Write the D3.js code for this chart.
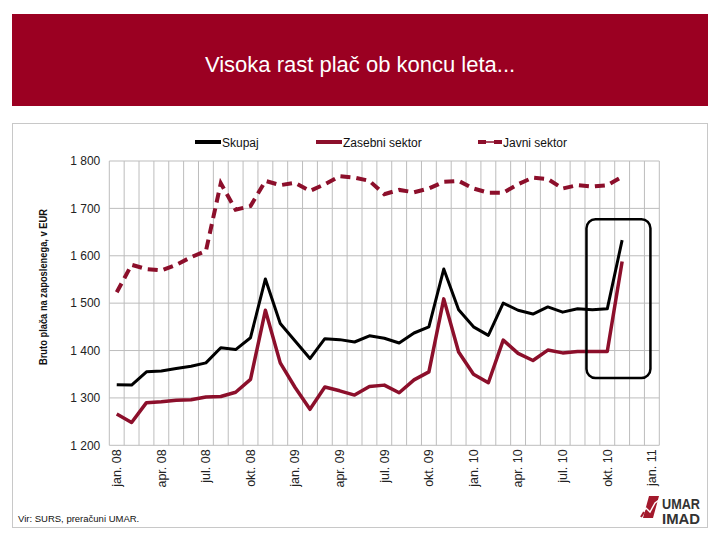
<!DOCTYPE html>
<html><head><meta charset="utf-8">
<script src="https://cdn.jsdelivr.net/npm/d3@7"></script>
<style>
html,body{margin:0;padding:0;background:#fff;}
svg{display:block;font-family:"Liberation Sans",Arial,sans-serif;}
</style></head>
<body><svg id="c" width="720" height="540"></svg>
<script>
const months = ["jan. 08","feb. 08","mar. 08","apr. 08","maj. 08","jun. 08","jul. 08","avg. 08","sep. 08","okt. 08","nov. 08","dec. 08",
"jan. 09","feb. 09","mar. 09","apr. 09","maj. 09","jun. 09","jul. 09","avg. 09","sep. 09","okt. 09","nov. 09","dec. 09",
"jan. 10","feb. 10","mar. 10","apr. 10","maj. 10","jun. 10","jul. 10","avg. 10","sep. 10","okt. 10","nov. 10","dec. 10","jan. 11"];
const tickLabels = ["jan. 08","apr. 08","jul. 08","okt. 08","jan. 09","apr. 09","jul. 09","okt. 09","jan. 10","apr. 10","jul. 10","okt. 10","jan. 11"];
const yTicks = [1200,1300,1400,1500,1600,1700,1800];
const skupaj = [1328,1327,1355,1357,1362,1367,1374,1406,1402,1427,1551,1457,1420,1383,1425,1423,1418,1431,1426,1416,1437,1450,1572,1486,1450,1432,1500,1485,1477,1492,1481,1488,1486,1488,1633];
const zasebni = [1266,1248,1290,1292,1295,1296,1302,1303,1312,1339,1485,1374,1322,1276,1323,1315,1306,1324,1327,1311,1338,1355,1509,1397,1350,1332,1422,1394,1379,1401,1395,1398,1398,1398,1588];
const javni = [1523,1581,1572,1569,1581,1597,1610,1753,1697,1705,1758,1749,1754,1737,1751,1768,1765,1758,1730,1739,1734,1742,1756,1758,1742,1733,1733,1751,1765,1762,1742,1749,1746,1749,1767];
const seriesNames = ["Skupaj","Zasebni sektor","Javni sektor"];
const title = "Visoka rast plač ob koncu leta...";
const yTitle = "Bruto plača na zaposlenega, v EUR";
const source = "Vir: SURS, preračuni UMAR.";

const RED = "#9b0022", LRED = "#8c0f2b";
const svg = d3.select("#c");

// header
svg.append("rect").attr("x",12).attr("y",14).attr("width",696).attr("height",92).attr("fill",RED);
svg.append("text").attr("x",360).attr("y",72).attr("text-anchor","middle").attr("fill","#fff")
  .attr("font-size",22).text(title);
// frame
svg.append("rect").attr("x",12.5).attr("y",123.5).attr("width",695).attr("height",404).attr("fill","none").attr("stroke","#c8c8c8");

const L=109.3, R=659.3, T=161, B=445.3;
const x = d3.scaleBand().domain(months).range([L,R]).padding(0);
const y = d3.scaleLinear().domain([1200,1800]).range([B,T]);
const cx = m => x(m)+x.bandwidth()/2;

// grid
const g = svg.append("g");
g.selectAll(".vg").data(months.concat(["end"])).join("line")
  .attr("x1",(d,i)=>L+i*x.bandwidth()).attr("x2",(d,i)=>L+i*x.bandwidth())
  .attr("y1",T).attr("y2",B).attr("stroke","#bdbdbd").attr("stroke-width",1);
g.selectAll(".hg").data(yTicks).join("line")
  .attr("x1",L).attr("x2",R).attr("y1",d=>y(d)).attr("y2",d=>y(d)).attr("stroke","#bdbdbd").attr("stroke-width",1);

// y axis
const fmt = v => String(v).replace(/(\d)(\d{3})$/,"$1 $2");
const ya = svg.append("g").attr("transform",`translate(${L},0)`)
  .call(d3.axisLeft(y).tickValues(yTicks).tickFormat(fmt).tickSize(0).tickPadding(9));
ya.select(".domain").remove();
ya.selectAll("text").attr("font-size",12).attr("fill","#222").attr("font-family","Liberation Sans, Arial, sans-serif");

svg.append("text").attr("transform","translate(47,287) rotate(-90)").attr("text-anchor","middle")
  .attr("font-size",11).attr("font-weight","bold").attr("fill","#111")
  .attr("textLength",156).attr("lengthAdjust","spacingAndGlyphs").text(yTitle);

// x labels
const xa = svg.append("g").attr("transform",`translate(0,${B})`)
  .call(d3.axisBottom(x).tickValues(tickLabels).tickSize(0).tickPadding(0));
xa.select(".domain").remove();
xa.selectAll("text").attr("font-size",12.5).attr("fill","#222").attr("font-family","Liberation Sans, Arial, sans-serif")
  .attr("text-anchor","end").attr("transform","rotate(-90)").attr("x",-4).attr("y",0).attr("dy","0.35em");

// lines
const line = d3.line().x((d,i)=>cx(months[i])).y(d=>y(d));
svg.append("path").datum(javni).attr("d",line).attr("fill","none").attr("stroke",LRED)
  .attr("stroke-width",4).attr("stroke-dasharray","10,6");
svg.append("path").datum(zasebni).attr("d",line).attr("fill","none").attr("stroke",LRED).attr("stroke-width",3.5).attr("stroke-linejoin","round");
svg.append("path").datum(skupaj).attr("d",line).attr("fill","none").attr("stroke","#000").attr("stroke-width",3).attr("stroke-linejoin","round");

// highlight box
const hx0 = x("sep. 10")+1.5, hx1 = x("jan. 11")+6;
svg.append("rect").attr("x",hx0).attr("y",y(1677)).attr("width",hx1-hx0).attr("height",y(1342)-y(1677))
  .attr("rx",9).attr("fill","none").attr("stroke","#000").attr("stroke-width",2.5);

// legend
const lg = svg.append("g");
lg.append("line").attr("x1",195).attr("x2",221).attr("y1",142).attr("y2",142).attr("stroke","#000").attr("stroke-width",4);
lg.append("text").attr("x",222).attr("y",146.5).attr("font-size",12).attr("fill","#111").text(seriesNames[0]);
lg.append("line").attr("x1",316).attr("x2",342).attr("y1",142).attr("y2",142).attr("stroke",LRED).attr("stroke-width",4);
lg.append("text").attr("x",343).attr("y",146.5).attr("font-size",12).attr("fill","#111").text(seriesNames[1]);
lg.append("line").attr("x1",478).attr("x2",502).attr("y1",142).attr("y2",142).attr("stroke",LRED).attr("stroke-width",1.5);
lg.append("line").attr("x1",478).attr("x2",486).attr("y1",142).attr("y2",142).attr("stroke",LRED).attr("stroke-width",4);
lg.append("line").attr("x1",494).attr("x2",502).attr("y1",142).attr("y2",142).attr("stroke",LRED).attr("stroke-width",4);
lg.append("text").attr("x",503).attr("y",146.5).attr("font-size",12).attr("fill","#111").text(seriesNames[2]);

// source
svg.append("text").attr("x",18).attr("y",522).attr("font-size",9.5).attr("fill","#111").text(source);

// logo
const lo = svg.append("g").attr("transform","translate(641,495)");
lo.append("polygon").attr("points","8,1 18,1 12,23 2,23").attr("fill","#a3192c");
lo.append("polyline").attr("points","0,21 5,13 9,17 14,8 18,5").attr("fill","none").attr("stroke","#fff").attr("stroke-width",1.4);
lo.append("line").attr("x1",0).attr("y1",22).attr("x2",3).attr("y2",17).attr("stroke","#a3192c").attr("stroke-width",2);
lo.append("text").attr("x",21).attr("y",14).attr("font-size",14.5).attr("font-weight","bold").attr("fill","#333")
  .attr("textLength",38).attr("lengthAdjust","spacingAndGlyphs").text("UMAR");
lo.append("text").attr("x",21).attr("y",29).attr("font-size",14.5).attr("font-weight","bold").attr("fill","#333")
  .attr("textLength",38).attr("lengthAdjust","spacingAndGlyphs").text("IMAD");
</script></body></html>
